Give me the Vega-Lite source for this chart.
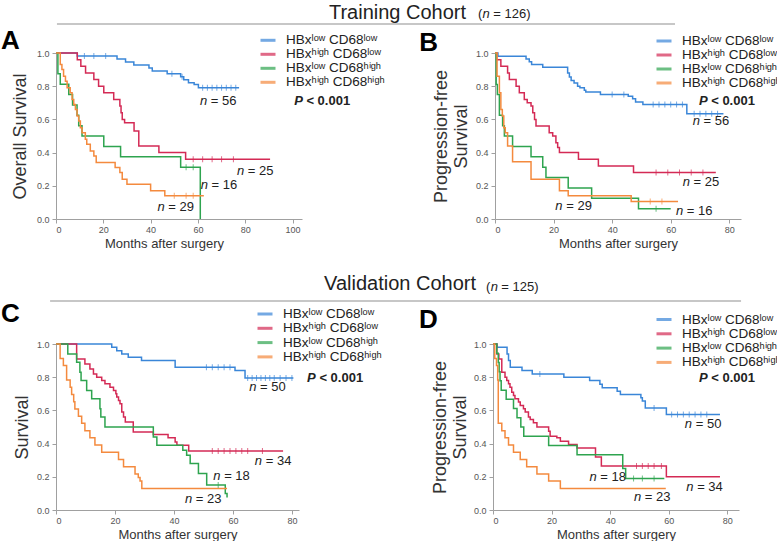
{
  "$schema": "https://vega.github.io/schema/vega-lite/v6.json",
  "padding": {"left": 0, "top": 2, "right": 0, "bottom": 0},
  "background": "white",
  "config": {
    "view": {"stroke": null},
    "font": "Liberation Sans",
    "axis": {"grid": false, "domainColor": "#a0a0a0", "tickColor": "#a0a0a0", "tickSize": 4, "labelFontSize": 9, "labelColor": "#555555", "titleFontWeight": "normal", "titleColor": "#333333", "labelFont": "Liberation Sans", "titleFont": "Liberation Sans", "labelOverlap": false, "labelSeparation": 0},
    "axisX": {"titleFontSize": 13, "labelPadding": 2, "titlePadding": 3},
    "axisY": {"titleFontSize": 18, "labelPadding": 3, "titlePadding": 6, "titleLineHeight": 20},
    "legend": {"orient": "none", "title": null, "padding": 0, "symbolType": "stroke", "symbolSize": 225, "symbolStrokeWidth": 3, "symbolOffset": 0, "labelFontSize": 13.5, "labelFont": "Liberation Sans", "labelColor": "#222222", "labelOffset": 9, "rowPadding": 0, "clipHeight": 14},
    "text": {"font": "Liberation Sans", "fontSize": 13, "color": "#222222"}
  },
  "datasets": {
    "km": [
      {"p":"A","g":"LL","t":0,"s":1},{"p":"A","g":"LL","t":9,"s":0.982},{"p":"A","g":"LL","t":25.8,"s":0.964},{"p":"A","g":"LL","t":29.4,"s":0.946},{"p":"A","g":"LL","t":32.9,"s":0.928},{"p":"A","g":"LL","t":39.3,"s":0.91},{"p":"A","g":"LL","t":40.7,"s":0.892},{"p":"A","g":"LL","t":47,"s":0.875},{"p":"A","g":"LL","t":52.7,"s":0.857},{"p":"A","g":"LL","t":54,"s":0.839},{"p":"A","g":"LL","t":56,"s":0.821},{"p":"A","g":"LL","t":58.4,"s":0.81},{"p":"A","g":"LL","t":60.2,"s":0.79},{"p":"A","g":"LL","t":77.4,"s":0.79},
      {"p":"A","g":"HL","t":0,"s":1},{"p":"A","g":"HL","t":9,"s":0.96},{"p":"A","g":"HL","t":10.5,"s":0.92},{"p":"A","g":"HL","t":12.5,"s":0.88},{"p":"A","g":"HL","t":16,"s":0.84},{"p":"A","g":"HL","t":18,"s":0.8},{"p":"A","g":"HL","t":20.2,"s":0.76},{"p":"A","g":"HL","t":24.4,"s":0.72},{"p":"A","g":"HL","t":27,"s":0.68},{"p":"A","g":"HL","t":27.5,"s":0.64},{"p":"A","g":"HL","t":28,"s":0.6},{"p":"A","g":"HL","t":29,"s":0.58},{"p":"A","g":"HL","t":33,"s":0.53},{"p":"A","g":"HL","t":35,"s":0.44},{"p":"A","g":"HL","t":43.5,"s":0.4},{"p":"A","g":"HL","t":54.8,"s":0.36},{"p":"A","g":"HL","t":90.5,"s":0.36},
      {"p":"A","g":"LH","t":0,"s":1},{"p":"A","g":"LH","t":0.8,"s":0.875},{"p":"A","g":"LH","t":1.8,"s":0.8125},{"p":"A","g":"LH","t":5.4,"s":0.75},{"p":"A","g":"LH","t":7,"s":0.6875},{"p":"A","g":"LH","t":8.9,"s":0.625},{"p":"A","g":"LH","t":9.6,"s":0.5625},{"p":"A","g":"LH","t":11,"s":0.5},{"p":"A","g":"LH","t":20.2,"s":0.4375},{"p":"A","g":"LH","t":27.3,"s":0.375},{"p":"A","g":"LH","t":52.7,"s":0.3125},{"p":"A","g":"LH","t":61,"s":0},
      {"p":"A","g":"HH","t":0,"s":1},{"p":"A","g":"HH","t":1.8,"s":0.93},{"p":"A","g":"HH","t":2.5,"s":0.9},{"p":"A","g":"HH","t":3.2,"s":0.86},{"p":"A","g":"HH","t":4,"s":0.83},{"p":"A","g":"HH","t":4.7,"s":0.79},{"p":"A","g":"HH","t":6,"s":0.76},{"p":"A","g":"HH","t":6.8,"s":0.72},{"p":"A","g":"HH","t":7.5,"s":0.69},{"p":"A","g":"HH","t":8.2,"s":0.66},{"p":"A","g":"HH","t":8.9,"s":0.62},{"p":"A","g":"HH","t":9.6,"s":0.59},{"p":"A","g":"HH","t":10.3,"s":0.55},{"p":"A","g":"HH","t":11,"s":0.52},{"p":"A","g":"HH","t":12.4,"s":0.48},{"p":"A","g":"HH","t":13,"s":0.45},{"p":"A","g":"HH","t":14.5,"s":0.41},{"p":"A","g":"HH","t":16,"s":0.38},{"p":"A","g":"HH","t":17,"s":0.34},{"p":"A","g":"HH","t":25,"s":0.31},{"p":"A","g":"HH","t":27,"s":0.28},{"p":"A","g":"HH","t":28,"s":0.24},{"p":"A","g":"HH","t":30,"s":0.21},{"p":"A","g":"HH","t":40,"s":0.17},{"p":"A","g":"HH","t":46,"s":0.14},{"p":"A","g":"HH","t":62.5,"s":0.14},

      {"p":"B","g":"LL","t":0,"s":1},{"p":"B","g":"LL","t":1,"s":0.98},{"p":"B","g":"LL","t":10.6,"s":0.964},{"p":"B","g":"LL","t":11.7,"s":0.948},{"p":"B","g":"LL","t":12.5,"s":0.93},{"p":"B","g":"LL","t":16.3,"s":0.914},{"p":"B","g":"LL","t":24.8,"s":0.88},{"p":"B","g":"LL","t":25.4,"s":0.855},{"p":"B","g":"LL","t":26,"s":0.835},{"p":"B","g":"LL","t":27,"s":0.82},{"p":"B","g":"LL","t":28.2,"s":0.8},{"p":"B","g":"LL","t":29,"s":0.79},{"p":"B","g":"LL","t":30.5,"s":0.775},{"p":"B","g":"LL","t":31,"s":0.765},{"p":"B","g":"LL","t":36,"s":0.75},{"p":"B","g":"LL","t":45.5,"s":0.74},{"p":"B","g":"LL","t":47,"s":0.725},{"p":"B","g":"LL","t":48,"s":0.705},{"p":"B","g":"LL","t":50.5,"s":0.69},{"p":"B","g":"LL","t":65.5,"s":0.634},{"p":"B","g":"LL","t":78,"s":0.634},
      {"p":"B","g":"HL","t":0,"s":1},{"p":"B","g":"HL","t":0.6,"s":0.96},{"p":"B","g":"HL","t":2,"s":0.92},{"p":"B","g":"HL","t":4.3,"s":0.88},{"p":"B","g":"HL","t":4.9,"s":0.84},{"p":"B","g":"HL","t":7.2,"s":0.8},{"p":"B","g":"HL","t":8.3,"s":0.76},{"p":"B","g":"HL","t":10,"s":0.72},{"p":"B","g":"HL","t":11,"s":0.7},{"p":"B","g":"HL","t":12.3,"s":0.68},{"p":"B","g":"HL","t":12.9,"s":0.64},{"p":"B","g":"HL","t":13.5,"s":0.6},{"p":"B","g":"HL","t":14,"s":0.56},{"p":"B","g":"HL","t":18.5,"s":0.52},{"p":"B","g":"HL","t":19.7,"s":0.5},{"p":"B","g":"HL","t":20.8,"s":0.46},{"p":"B","g":"HL","t":21.4,"s":0.43},{"p":"B","g":"HL","t":22,"s":0.4},{"p":"B","g":"HL","t":28.5,"s":0.36},{"p":"B","g":"HL","t":35.3,"s":0.32},{"p":"B","g":"HL","t":47.3,"s":0.28},{"p":"B","g":"HL","t":75.4,"s":0.28},
      {"p":"B","g":"LH","t":0,"s":1},{"p":"B","g":"LH","t":0.4,"s":0.81},{"p":"B","g":"LH","t":0.8,"s":0.75},{"p":"B","g":"LH","t":1.5,"s":0.625},{"p":"B","g":"LH","t":2.6,"s":0.5625},{"p":"B","g":"LH","t":3.2,"s":0.5},{"p":"B","g":"LH","t":6,"s":0.4375},{"p":"B","g":"LH","t":12.3,"s":0.375},{"p":"B","g":"LH","t":16.3,"s":0.3125},{"p":"B","g":"LH","t":17.4,"s":0.25},{"p":"B","g":"LH","t":25,"s":0.1875},{"p":"B","g":"LH","t":33,"s":0.125},{"p":"B","g":"LH","t":49,"s":0.0625},{"p":"B","g":"LH","t":60,"s":0.0625},
      {"p":"B","g":"HH","t":0,"s":1},{"p":"B","g":"HH","t":0.7,"s":0.86},{"p":"B","g":"HH","t":1.5,"s":0.76},{"p":"B","g":"HH","t":2,"s":0.66},{"p":"B","g":"HH","t":2.5,"s":0.62},{"p":"B","g":"HH","t":3,"s":0.55},{"p":"B","g":"HH","t":3.5,"s":0.52},{"p":"B","g":"HH","t":4.3,"s":0.44},{"p":"B","g":"HH","t":6,"s":0.345},{"p":"B","g":"HH","t":12.3,"s":0.24},{"p":"B","g":"HH","t":22,"s":0.17},{"p":"B","g":"HH","t":25,"s":0.14},{"p":"B","g":"HH","t":46.5,"s":0.105},{"p":"B","g":"HH","t":62.5,"s":0.105},

      {"p":"C","g":"LL","t":0,"s":1},{"p":"C","g":"LL","t":18.9,"s":0.98},{"p":"C","g":"LL","t":20.6,"s":0.96},{"p":"C","g":"LL","t":22.3,"s":0.94},{"p":"C","g":"LL","t":24.5,"s":0.92},{"p":"C","g":"LL","t":29,"s":0.9},{"p":"C","g":"LL","t":40.4,"s":0.86},{"p":"C","g":"LL","t":60.7,"s":0.84},{"p":"C","g":"LL","t":64.1,"s":0.795},{"p":"C","g":"LL","t":80.5,"s":0.795},
      {"p":"C","g":"HL","t":0,"s":1},{"p":"C","g":"HL","t":7,"s":0.91},{"p":"C","g":"HL","t":9.8,"s":0.88},{"p":"C","g":"HL","t":11.5,"s":0.85},{"p":"C","g":"HL","t":12.7,"s":0.82},{"p":"C","g":"HL","t":13.8,"s":0.8},{"p":"C","g":"HL","t":15.5,"s":0.78},{"p":"C","g":"HL","t":16.6,"s":0.76},{"p":"C","g":"HL","t":18.3,"s":0.74},{"p":"C","g":"HL","t":19.5,"s":0.72},{"p":"C","g":"HL","t":20.3,"s":0.7},{"p":"C","g":"HL","t":20.6,"s":0.68},{"p":"C","g":"HL","t":21.2,"s":0.66},{"p":"C","g":"HL","t":21.7,"s":0.64},{"p":"C","g":"HL","t":22.3,"s":0.59},{"p":"C","g":"HL","t":22.9,"s":0.56},{"p":"C","g":"HL","t":23.5,"s":0.53},{"p":"C","g":"HL","t":26.2,"s":0.47},{"p":"C","g":"HL","t":33,"s":0.455},{"p":"C","g":"HL","t":38,"s":0.435},{"p":"C","g":"HL","t":40.4,"s":0.41},{"p":"C","g":"HL","t":41,"s":0.39},{"p":"C","g":"HL","t":45,"s":0.355},{"p":"C","g":"HL","t":77,"s":0.355},
      {"p":"C","g":"LH","t":0,"s":1},{"p":"C","g":"LH","t":4,"s":0.94},{"p":"C","g":"LH","t":7,"s":0.89},{"p":"C","g":"LH","t":8.1,"s":0.83},{"p":"C","g":"LH","t":8.5,"s":0.78},{"p":"C","g":"LH","t":10.4,"s":0.72},{"p":"C","g":"LH","t":12.1,"s":0.67},{"p":"C","g":"LH","t":14.9,"s":0.61},{"p":"C","g":"LH","t":15.2,"s":0.56},{"p":"C","g":"LH","t":16.6,"s":0.5},{"p":"C","g":"LH","t":33,"s":0.44},{"p":"C","g":"LH","t":34.2,"s":0.39},{"p":"C","g":"LH","t":43,"s":0.36},{"p":"C","g":"LH","t":44.3,"s":0.33},{"p":"C","g":"LH","t":45.5,"s":0.28},{"p":"C","g":"LH","t":48.3,"s":0.22},{"p":"C","g":"LH","t":51.1,"s":0.15},{"p":"C","g":"LH","t":57.4,"s":0.1},{"p":"C","g":"LH","t":58,"s":0.075},
      {"p":"C","g":"HH","t":0,"s":1},{"p":"C","g":"HH","t":1.4,"s":0.913},{"p":"C","g":"HH","t":2.5,"s":0.87},{"p":"C","g":"HH","t":3.6,"s":0.783},{"p":"C","g":"HH","t":4.8,"s":0.739},{"p":"C","g":"HH","t":5.3,"s":0.696},{"p":"C","g":"HH","t":6,"s":0.652},{"p":"C","g":"HH","t":6.4,"s":0.609},{"p":"C","g":"HH","t":7.6,"s":0.565},{"p":"C","g":"HH","t":8.7,"s":0.522},{"p":"C","g":"HH","t":9.8,"s":0.478},{"p":"C","g":"HH","t":11.5,"s":0.435},{"p":"C","g":"HH","t":13.2,"s":0.391},{"p":"C","g":"HH","t":15.5,"s":0.348},{"p":"C","g":"HH","t":21.2,"s":0.304},{"p":"C","g":"HH","t":22.9,"s":0.261},{"p":"C","g":"HH","t":26.8,"s":0.217},{"p":"C","g":"HH","t":27.9,"s":0.196},{"p":"C","g":"HH","t":28.5,"s":0.174},{"p":"C","g":"HH","t":29.1,"s":0.13},{"p":"C","g":"HH","t":58,"s":0.13},

      {"p":"D","g":"LL","t":0,"s":1},{"p":"D","g":"LL","t":1.4,"s":0.98},{"p":"D","g":"LL","t":4.8,"s":0.94},{"p":"D","g":"LL","t":5.3,"s":0.9},{"p":"D","g":"LL","t":5.9,"s":0.86},{"p":"D","g":"LL","t":9.9,"s":0.84},{"p":"D","g":"LL","t":13.4,"s":0.82},{"p":"D","g":"LL","t":24.2,"s":0.8},{"p":"D","g":"LL","t":33,"s":0.78},{"p":"D","g":"LL","t":36.5,"s":0.757},{"p":"D","g":"LL","t":37.3,"s":0.736},{"p":"D","g":"LL","t":42.4,"s":0.716},{"p":"D","g":"LL","t":43.5,"s":0.696},{"p":"D","g":"LL","t":50.5,"s":0.676},{"p":"D","g":"LL","t":51,"s":0.656},{"p":"D","g":"LL","t":52,"s":0.615},{"p":"D","g":"LL","t":59.2,"s":0.575},{"p":"D","g":"LL","t":77.5,"s":0.575},
      {"p":"D","g":"HL","t":0,"s":1},{"p":"D","g":"HL","t":1.3,"s":0.94},{"p":"D","g":"HL","t":2,"s":0.91},{"p":"D","g":"HL","t":3,"s":0.83},{"p":"D","g":"HL","t":4.1,"s":0.8},{"p":"D","g":"HL","t":4.7,"s":0.78},{"p":"D","g":"HL","t":5.3,"s":0.76},{"p":"D","g":"HL","t":5.8,"s":0.74},{"p":"D","g":"HL","t":6.4,"s":0.71},{"p":"D","g":"HL","t":7,"s":0.69},{"p":"D","g":"HL","t":7.5,"s":0.67},{"p":"D","g":"HL","t":8.7,"s":0.65},{"p":"D","g":"HL","t":9.3,"s":0.63},{"p":"D","g":"HL","t":10.4,"s":0.61},{"p":"D","g":"HL","t":11,"s":0.59},{"p":"D","g":"HL","t":12.1,"s":0.56},{"p":"D","g":"HL","t":12.7,"s":0.545},{"p":"D","g":"HL","t":13.8,"s":0.525},{"p":"D","g":"HL","t":15,"s":0.5},{"p":"D","g":"HL","t":19,"s":0.475},{"p":"D","g":"HL","t":19.5,"s":0.445},{"p":"D","g":"HL","t":21.8,"s":0.435},{"p":"D","g":"HL","t":23,"s":0.414},{"p":"D","g":"HL","t":25.8,"s":0.394},{"p":"D","g":"HL","t":28.7,"s":0.374},{"p":"D","g":"HL","t":35,"s":0.32},{"p":"D","g":"HL","t":37,"s":0.265},{"p":"D","g":"HL","t":59.2,"s":0.2},{"p":"D","g":"HL","t":77.5,"s":0.2},
      {"p":"D","g":"LH","t":0,"s":1},{"p":"D","g":"LH","t":1.3,"s":0.944},{"p":"D","g":"LH","t":1.8,"s":0.889},{"p":"D","g":"LH","t":2.1,"s":0.833},{"p":"D","g":"LH","t":2.4,"s":0.778},{"p":"D","g":"LH","t":2.8,"s":0.722},{"p":"D","g":"LH","t":4.5,"s":0.667},{"p":"D","g":"LH","t":7,"s":0.611},{"p":"D","g":"LH","t":8.2,"s":0.556},{"p":"D","g":"LH","t":9.5,"s":0.5},{"p":"D","g":"LH","t":10.5,"s":0.444},{"p":"D","g":"LH","t":19,"s":0.389},{"p":"D","g":"LH","t":28.7,"s":0.333},{"p":"D","g":"LH","t":44.3,"s":0.25},{"p":"D","g":"LH","t":45.3,"s":0.19},{"p":"D","g":"LH","t":58.5,"s":0.19},
      {"p":"D","g":"HH","t":0,"s":1},{"p":"D","g":"HH","t":0.6,"s":0.913},{"p":"D","g":"HH","t":1.2,"s":0.87},{"p":"D","g":"HH","t":1.6,"s":0.783},{"p":"D","g":"HH","t":1.8,"s":0.522},{"p":"D","g":"HH","t":3,"s":0.478},{"p":"D","g":"HH","t":4.1,"s":0.435},{"p":"D","g":"HH","t":5.3,"s":0.391},{"p":"D","g":"HH","t":7,"s":0.348},{"p":"D","g":"HH","t":9.3,"s":0.304},{"p":"D","g":"HH","t":11.5,"s":0.261},{"p":"D","g":"HH","t":15,"s":0.217},{"p":"D","g":"HH","t":19,"s":0.174},{"p":"D","g":"HH","t":23,"s":0.13},{"p":"D","g":"HH","t":59,"s":0.13}
    ],
    "cz": [
      {"p":"A","g":"LL","t":12,"s":0.982},{"p":"A","g":"LL","t":16,"s":0.982},{"p":"A","g":"LL","t":21,"s":0.982},{"p":"A","g":"LL","t":49,"s":0.875},{"p":"A","g":"LL","t":53.3,"s":0.857},{"p":"A","g":"LL","t":62,"s":0.79},{"p":"A","g":"LL","t":64,"s":0.79},{"p":"A","g":"LL","t":66,"s":0.79},{"p":"A","g":"LL","t":68,"s":0.79},{"p":"A","g":"LL","t":70,"s":0.79},{"p":"A","g":"LL","t":72,"s":0.79},{"p":"A","g":"LL","t":74,"s":0.79},{"p":"A","g":"LL","t":76,"s":0.79},
      {"p":"A","g":"HL","t":58,"s":0.36},{"p":"A","g":"HL","t":62,"s":0.36},{"p":"A","g":"HL","t":66,"s":0.36},{"p":"A","g":"HL","t":70,"s":0.36},{"p":"A","g":"HL","t":75,"s":0.36},
      {"p":"A","g":"LH","t":55,"s":0.3125},{"p":"A","g":"LH","t":58,"s":0.3125},
      {"p":"A","g":"HH","t":50,"s":0.14},{"p":"A","g":"HH","t":55,"s":0.14},{"p":"A","g":"HH","t":58,"s":0.14},
      {"p":"B","g":"LL","t":40,"s":0.75},{"p":"B","g":"LL","t":44,"s":0.75},{"p":"B","g":"LL","t":54,"s":0.69},{"p":"B","g":"LL","t":56,"s":0.69},{"p":"B","g":"LL","t":58,"s":0.69},{"p":"B","g":"LL","t":60,"s":0.69},{"p":"B","g":"LL","t":62,"s":0.69},{"p":"B","g":"LL","t":64,"s":0.69},{"p":"B","g":"LL","t":68,"s":0.634},{"p":"B","g":"LL","t":70,"s":0.634},{"p":"B","g":"LL","t":72,"s":0.634},{"p":"B","g":"LL","t":74,"s":0.634},{"p":"B","g":"LL","t":76,"s":0.634},
      {"p":"B","g":"HL","t":55,"s":0.28},{"p":"B","g":"HL","t":59,"s":0.28},{"p":"B","g":"HL","t":63,"s":0.28},{"p":"B","g":"HL","t":67,"s":0.28},{"p":"B","g":"HL","t":71,"s":0.28},
      {"p":"B","g":"HH","t":53,"s":0.105},{"p":"B","g":"HH","t":57,"s":0.105},
      {"p":"B","g":"LH","t":55,"s":0.0625},
      {"p":"C","g":"LL","t":51,"s":0.86},{"p":"C","g":"LL","t":53,"s":0.86},{"p":"C","g":"LL","t":55,"s":0.86},{"p":"C","g":"LL","t":57,"s":0.86},{"p":"C","g":"LL","t":59,"s":0.86},{"p":"C","g":"LL","t":65,"s":0.795},{"p":"C","g":"LL","t":66.5,"s":0.795},{"p":"C","g":"LL","t":68,"s":0.795},{"p":"C","g":"LL","t":69.5,"s":0.795},{"p":"C","g":"LL","t":71,"s":0.795},{"p":"C","g":"LL","t":72.5,"s":0.795},{"p":"C","g":"LL","t":74,"s":0.795},{"p":"C","g":"LL","t":76,"s":0.795},{"p":"C","g":"LL","t":78,"s":0.795},{"p":"C","g":"LL","t":80,"s":0.795},
      {"p":"C","g":"HL","t":53,"s":0.355},{"p":"C","g":"HL","t":55,"s":0.355},{"p":"C","g":"HL","t":57,"s":0.355},{"p":"C","g":"HL","t":59,"s":0.355},{"p":"C","g":"HL","t":61,"s":0.355},{"p":"C","g":"HL","t":63,"s":0.355},{"p":"C","g":"HL","t":65,"s":0.355},{"p":"C","g":"HL","t":70,"s":0.355},
      {"p":"C","g":"LH","t":55,"s":0.15},
      {"p":"D","g":"LL","t":16,"s":0.82},{"p":"D","g":"LL","t":55,"s":0.615},{"p":"D","g":"LL","t":61,"s":0.575},{"p":"D","g":"LL","t":63,"s":0.575},{"p":"D","g":"LL","t":65,"s":0.575},{"p":"D","g":"LL","t":67,"s":0.575},{"p":"D","g":"LL","t":69,"s":0.575},{"p":"D","g":"LL","t":71,"s":0.575},{"p":"D","g":"LL","t":73,"s":0.575},
      {"p":"D","g":"HL","t":49,"s":0.265},{"p":"D","g":"HL","t":51,"s":0.265},{"p":"D","g":"HL","t":53,"s":0.265},{"p":"D","g":"HL","t":55,"s":0.265},{"p":"D","g":"HL","t":57.5,"s":0.265},
      {"p":"D","g":"LH","t":48,"s":0.19},{"p":"D","g":"LH","t":51,"s":0.19},{"p":"D","g":"LH","t":55,"s":0.19}
    ],
    "nl": [
      {"p":"A","t":64.7,"s":0.713,"txt":"= 56"},{"p":"A","t":80.3,"s":0.29,"txt":"= 25"},{"p":"A","t":65,"s":0.207,"txt":"= 16"},{"p":"A","t":46.7,"s":0.07,"txt":"= 29"},
      {"p":"B","t":70.6,"s":0.588,"txt":"= 56"},{"p":"B","t":67.2,"s":0.224,"txt":"= 25"},{"p":"B","t":23.7,"s":0.078,"txt":"= 29"},{"p":"B","t":64.9,"s":0.05,"txt":"= 16"},
      {"p":"C","t":68.6,"s":0.743,"txt":"= 50"},{"p":"C","t":70.5,"s":0.293,"txt":"= 34"},{"p":"C","t":56.4,"s":0.202,"txt":"= 18"},{"p":"C","t":46.8,"s":0.065,"txt":"= 23"},
      {"p":"D","t":68.6,"s":0.519,"txt":"= 50"},{"p":"D","t":36,"s":0.2,"txt":"= 18"},{"p":"D","t":69.1,"s":0.141,"txt":"= 34"},{"p":"D","t":51.2,"s":0.08,"txt":"= 23"}
    ],
    "pv": [
      {"p":"A","t":105.1,"s":0.711},{"p":"B","t":73.2,"s":0.711},{"p":"C","t":88.7,"s":0.795},{"p":"D","t":73.9,"s":0.793}
    ],
    "lt": [
      {"p":"A","t":-23.3,"s":1.024,"txt":"A"},{"p":"B","t":-25.9,"s":1.012,"txt":"B"},{"p":"C","t":-18.65,"s":1.133,"txt":"C"},{"p":"D","t":-25.3,"s":1.096,"txt":"D"}
    ],
    "hd": [
      {"p":"A","t":115.4,"s":1.205,"txt":"Training Cohort"},{"p":"C","t":90.9,"s":1.325,"txt":"Validation Cohort"}
    ],
    "hs": [
      {"p":"A","t":178.4,"s":1.211,"txt":"("},{"p":"A","t":184.9,"s":1.211,"txt":"= 126)"},
      {"p":"C","t":145.8,"s":1.319,"txt":"("},{"p":"C","t":151.0,"s":1.319,"txt":"= 125)"}
    ],
    "hn": [
      {"p":"A","t":180.3,"s":1.211},{"p":"C","t":147.4,"s":1.319}
    ],
    "hr": [
      {"p":"A","t":0.4,"t2":261.7,"s":1.175},{"p":"C","t":-2.0,"t2":232.3,"s":1.259}
    ]
  },
  "spacing": 24,
  "bounds": "full",
  "resolve": {"scale": {"color": "independent"}, "legend": {"color": "independent"}},
  "vconcat": [
    {
      "spacing": 193,
      "bounds": "flush",
      "resolve": {"scale": {"color": "independent"}, "legend": {"color": "independent"}},
      "hconcat": [
        {
          "width": 246, "height": 166,
          "layer": [
            {"data": {"name": "km"}, "transform": [{"filter": "datum.p==='A'"}],
             "mark": {"type": "line", "interpolate": "step-after", "strokeWidth": 1.5},
             "encoding": {
               "x": {"field": "t", "type": "quantitative", "scale": {"domain": [0, 104], "nice": false}, "axis": {"title": "Months after surgery", "values": [0, 20, 40, 60, 80, 100], "titleX": 108, "labelOverlap": false}},
               "y": {"field": "s", "type": "quantitative", "scale": {"domain": [0, 1], "nice": false}, "axis": {"title": "Overall Survival", "tickCount": 5, "format": ".1f", "titlePadding": 7, "labelOverlap": false}},
               "color": {"field": "g", "type": "nominal", "scale": {"domain": ["LL", "HL", "LH", "HH"], "range": ["#3a86d8", "#d42a55", "#2ea44f", "#f48a3e"]}, "legend": {"legendX": 203, "legendY": -19.7, "rowPadding": 0, "clipHeight": 14, "labelExpr": "datum.label==='LL'?'HBxˡᵒʷ CD68ˡᵒʷ':datum.label==='HL'?'HBxʰⁱᵍʰ CD68ˡᵒʷ':datum.label==='LH'?'HBxˡᵒʷ CD68ʰⁱᵍʰ':'HBxʰⁱᵍʰ CD68ʰⁱᵍʰ'"}}
             }},
            {"data": {"name": "cz"}, "transform": [{"filter": "datum.p==='A'"}],
             "mark": {"type": "tick", "orient": "vertical", "size": 6, "thickness": 1},
             "encoding": {"x": {"field": "t", "type": "quantitative"}, "y": {"field": "s", "type": "quantitative"}, "color": {"field": "g", "type": "nominal"}}},
            {"data": {"name": "nl"}, "transform": [{"filter": "datum.p==='A'"}],
             "mark": {"type": "text", "text": "n", "fontStyle": "italic", "align": "right", "baseline": "middle", "dx": -1.8},
             "encoding": {"x": {"field": "t", "type": "quantitative"}, "y": {"field": "s", "type": "quantitative"}}},
            {"data": {"name": "nl"}, "transform": [{"filter": "datum.p==='A'"}],
             "mark": {"type": "text", "align": "left", "baseline": "middle", "dx": 1.8},
             "encoding": {"x": {"field": "t", "type": "quantitative"}, "y": {"field": "s", "type": "quantitative"}, "text": {"field": "txt"}}},
            {"data": {"name": "pv"}, "transform": [{"filter": "datum.p==='A'"}],
             "mark": {"type": "text", "text": "P", "fontStyle": "italic", "fontWeight": "bold", "align": "right", "baseline": "middle", "dx": -1.8},
             "encoding": {"x": {"field": "t", "type": "quantitative"}, "y": {"field": "s", "type": "quantitative"}}},
            {"data": {"name": "pv"}, "transform": [{"filter": "datum.p==='A'"}],
             "mark": {"type": "text", "text": "< 0.001", "fontWeight": "bold", "align": "left", "baseline": "middle", "dx": 1.8},
             "encoding": {"x": {"field": "t", "type": "quantitative"}, "y": {"field": "s", "type": "quantitative"}}},
            {"data": {"name": "lt"}, "transform": [{"filter": "datum.p==='A'"}],
             "mark": {"type": "text", "fontSize": 26, "fontWeight": "bold", "color": "#000000", "align": "left", "baseline": "alphabetic"},
             "encoding": {"x": {"field": "t", "type": "quantitative"}, "y": {"field": "s", "type": "quantitative"}, "text": {"field": "txt"}}},
            {"data": {"name": "hd"}, "transform": [{"filter": "datum.p==='A'"}],
             "mark": {"type": "text", "fontSize": 20, "color": "#222222", "align": "left", "baseline": "alphabetic"},
             "encoding": {"x": {"field": "t", "type": "quantitative"}, "y": {"field": "s", "type": "quantitative"}, "text": {"field": "txt"}}},
            {"data": {"name": "hs"}, "transform": [{"filter": "datum.p==='A'"}],
             "mark": {"type": "text", "fontSize": 13, "color": "#222222", "align": "left", "baseline": "alphabetic"},
             "encoding": {"x": {"field": "t", "type": "quantitative"}, "y": {"field": "s", "type": "quantitative"}, "text": {"field": "txt"}}},
            {"data": {"name": "hn"}, "transform": [{"filter": "datum.p==='A'"}],
             "mark": {"type": "text", "text": "n", "fontSize": 13, "fontStyle": "italic", "color": "#222222", "align": "left", "baseline": "alphabetic"},
             "encoding": {"x": {"field": "t", "type": "quantitative"}, "y": {"field": "s", "type": "quantitative"}}},
            {"data": {"name": "hr"}, "transform": [{"filter": "datum.p==='A'"}],
             "mark": {"type": "rule", "color": "#b4b4b4", "strokeWidth": 1.5},
             "encoding": {"x": {"field": "t", "type": "quantitative"}, "x2": {"field": "t2"}, "y": {"field": "s", "type": "quantitative"}}}
          ]
        },
        {
          "width": 246, "height": 166,
          "layer": [
            {"data": {"name": "km"}, "transform": [{"filter": "datum.p==='B'"}],
             "mark": {"type": "line", "interpolate": "step-after", "strokeWidth": 1.5},
             "encoding": {
               "x": {"field": "t", "type": "quantitative", "scale": {"domain": [0, 84], "nice": false}, "axis": {"title": "Months after surgery", "values": [0, 20, 40, 60, 80], "labelOverlap": false}},
               "y": {"field": "s", "type": "quantitative", "scale": {"domain": [0, 1], "nice": false}, "axis": {"title": ["Progression-free", "Survival"], "tickCount": 5, "format": ".1f", "titlePadding": 5, "labelOverlap": false}},
               "color": {"field": "g", "type": "nominal", "scale": {"domain": ["LL", "HL", "LH", "HH"], "range": ["#3a86d8", "#d42a55", "#2ea44f", "#f48a3e"]}, "legend": {"legendX": 160, "legendY": -19, "rowPadding": 0, "clipHeight": 14, "labelExpr": "datum.label==='LL'?'HBxˡᵒʷ CD68ˡᵒʷ':datum.label==='HL'?'HBxʰⁱᵍʰ CD68ˡᵒʷ':datum.label==='LH'?'HBxˡᵒʷ CD68ʰⁱᵍʰ':'HBxʰⁱᵍʰ CD68ʰⁱᵍʰ'"}}
             }},
            {"data": {"name": "cz"}, "transform": [{"filter": "datum.p==='B'"}],
             "mark": {"type": "tick", "orient": "vertical", "size": 6, "thickness": 1},
             "encoding": {"x": {"field": "t", "type": "quantitative"}, "y": {"field": "s", "type": "quantitative"}, "color": {"field": "g", "type": "nominal"}}},
            {"data": {"name": "nl"}, "transform": [{"filter": "datum.p==='B'"}],
             "mark": {"type": "text", "text": "n", "fontStyle": "italic", "align": "right", "baseline": "middle", "dx": -1.8},
             "encoding": {"x": {"field": "t", "type": "quantitative"}, "y": {"field": "s", "type": "quantitative"}}},
            {"data": {"name": "nl"}, "transform": [{"filter": "datum.p==='B'"}],
             "mark": {"type": "text", "align": "left", "baseline": "middle", "dx": 1.8},
             "encoding": {"x": {"field": "t", "type": "quantitative"}, "y": {"field": "s", "type": "quantitative"}, "text": {"field": "txt"}}},
            {"data": {"name": "pv"}, "transform": [{"filter": "datum.p==='B'"}],
             "mark": {"type": "text", "text": "P", "fontStyle": "italic", "fontWeight": "bold", "align": "right", "baseline": "middle", "dx": -1.8},
             "encoding": {"x": {"field": "t", "type": "quantitative"}, "y": {"field": "s", "type": "quantitative"}}},
            {"data": {"name": "pv"}, "transform": [{"filter": "datum.p==='B'"}],
             "mark": {"type": "text", "text": "< 0.001", "fontWeight": "bold", "align": "left", "baseline": "middle", "dx": 1.8},
             "encoding": {"x": {"field": "t", "type": "quantitative"}, "y": {"field": "s", "type": "quantitative"}}},
            {"data": {"name": "lt"}, "transform": [{"filter": "datum.p==='B'"}],
             "mark": {"type": "text", "fontSize": 26, "fontWeight": "bold", "color": "#000000", "align": "left", "baseline": "alphabetic"},
             "encoding": {"x": {"field": "t", "type": "quantitative"}, "y": {"field": "s", "type": "quantitative"}, "text": {"field": "txt"}}}
          ]
        }
      ]
    },
    {
      "spacing": 194,
      "bounds": "flush",
      "resolve": {"scale": {"color": "independent"}, "legend": {"color": "independent"}},
      "hconcat": [
        {
          "width": 243, "height": 166,
          "layer": [
            {"data": {"name": "km"}, "transform": [{"filter": "datum.p==='C'"}],
             "mark": {"type": "line", "interpolate": "step-after", "strokeWidth": 1.5},
             "encoding": {
               "x": {"field": "t", "type": "quantitative", "scale": {"domain": [0, 82.4], "nice": false}, "axis": {"title": "Months after surgery", "values": [0, 20, 40, 60, 80], "labelOverlap": false}},
               "y": {"field": "s", "type": "quantitative", "scale": {"domain": [0, 1], "nice": false}, "axis": {"title": "Survival", "tickCount": 5, "format": ".1f", "titlePadding": 5, "labelOverlap": false}},
               "color": {"field": "g", "type": "nominal", "scale": {"domain": ["LL", "HL", "LH", "HH"], "range": ["#3a86d8", "#d42a55", "#2ea44f", "#f48a3e"]}, "legend": {"legendX": 200, "legendY": -37, "rowPadding": 0.3, "clipHeight": 14, "labelExpr": "datum.label==='LL'?'HBxˡᵒʷ CD68ˡᵒʷ':datum.label==='HL'?'HBxʰⁱᵍʰ CD68ˡᵒʷ':datum.label==='LH'?'HBxˡᵒʷ CD68ʰⁱᵍʰ':'HBxʰⁱᵍʰ CD68ʰⁱᵍʰ'"}}
             }},
            {"data": {"name": "cz"}, "transform": [{"filter": "datum.p==='C'"}],
             "mark": {"type": "tick", "orient": "vertical", "size": 6, "thickness": 1},
             "encoding": {"x": {"field": "t", "type": "quantitative"}, "y": {"field": "s", "type": "quantitative"}, "color": {"field": "g", "type": "nominal"}}},
            {"data": {"name": "nl"}, "transform": [{"filter": "datum.p==='C'"}],
             "mark": {"type": "text", "text": "n", "fontStyle": "italic", "align": "right", "baseline": "middle", "dx": -1.8},
             "encoding": {"x": {"field": "t", "type": "quantitative"}, "y": {"field": "s", "type": "quantitative"}}},
            {"data": {"name": "nl"}, "transform": [{"filter": "datum.p==='C'"}],
             "mark": {"type": "text", "align": "left", "baseline": "middle", "dx": 1.8},
             "encoding": {"x": {"field": "t", "type": "quantitative"}, "y": {"field": "s", "type": "quantitative"}, "text": {"field": "txt"}}},
            {"data": {"name": "pv"}, "transform": [{"filter": "datum.p==='C'"}],
             "mark": {"type": "text", "text": "P", "fontStyle": "italic", "fontWeight": "bold", "align": "right", "baseline": "middle", "dx": -1.8},
             "encoding": {"x": {"field": "t", "type": "quantitative"}, "y": {"field": "s", "type": "quantitative"}}},
            {"data": {"name": "pv"}, "transform": [{"filter": "datum.p==='C'"}],
             "mark": {"type": "text", "text": "< 0.001", "fontWeight": "bold", "align": "left", "baseline": "middle", "dx": 1.8},
             "encoding": {"x": {"field": "t", "type": "quantitative"}, "y": {"field": "s", "type": "quantitative"}}},
            {"data": {"name": "lt"}, "transform": [{"filter": "datum.p==='C'"}],
             "mark": {"type": "text", "fontSize": 26, "fontWeight": "bold", "color": "#000000", "align": "left", "baseline": "alphabetic"},
             "encoding": {"x": {"field": "t", "type": "quantitative"}, "y": {"field": "s", "type": "quantitative"}, "text": {"field": "txt"}}},
            {"data": {"name": "hd"}, "transform": [{"filter": "datum.p==='C'"}],
             "mark": {"type": "text", "fontSize": 20, "color": "#222222", "align": "left", "baseline": "alphabetic"},
             "encoding": {"x": {"field": "t", "type": "quantitative"}, "y": {"field": "s", "type": "quantitative"}, "text": {"field": "txt"}}},
            {"data": {"name": "hs"}, "transform": [{"filter": "datum.p==='C'"}],
             "mark": {"type": "text", "fontSize": 13, "color": "#222222", "align": "left", "baseline": "alphabetic"},
             "encoding": {"x": {"field": "t", "type": "quantitative"}, "y": {"field": "s", "type": "quantitative"}, "text": {"field": "txt"}}},
            {"data": {"name": "hn"}, "transform": [{"filter": "datum.p==='C'"}],
             "mark": {"type": "text", "text": "n", "fontSize": 13, "fontStyle": "italic", "color": "#222222", "align": "left", "baseline": "alphabetic"},
             "encoding": {"x": {"field": "t", "type": "quantitative"}, "y": {"field": "s", "type": "quantitative"}}},
            {"data": {"name": "hr"}, "transform": [{"filter": "datum.p==='C'"}],
             "mark": {"type": "rule", "color": "#b4b4b4", "strokeWidth": 1.5},
             "encoding": {"x": {"field": "t", "type": "quantitative"}, "x2": {"field": "t2"}, "y": {"field": "s", "type": "quantitative"}}}
          ]
        },
        {
          "width": 246, "height": 166,
          "layer": [
            {"data": {"name": "km"}, "transform": [{"filter": "datum.p==='D'"}],
             "mark": {"type": "line", "interpolate": "step-after", "strokeWidth": 1.5},
             "encoding": {
               "x": {"field": "t", "type": "quantitative", "scale": {"domain": [0, 84], "nice": false}, "axis": {"title": "Months after surgery", "values": [0, 20, 40, 60, 80], "labelOverlap": false}},
               "y": {"field": "s", "type": "quantitative", "scale": {"domain": [0, 1], "nice": false}, "axis": {"title": ["Progression-free", "Survival"], "tickCount": 5, "format": ".1f", "titlePadding": 4, "labelOverlap": false}},
               "color": {"field": "g", "type": "nominal", "scale": {"domain": ["LL", "HL", "LH", "HH"], "range": ["#3a86d8", "#d42a55", "#2ea44f", "#f48a3e"]}, "legend": {"legendX": 162, "legendY": -31.5, "rowPadding": 0.3, "clipHeight": 14, "labelExpr": "datum.label==='LL'?'HBxˡᵒʷ CD68ˡᵒʷ':datum.label==='HL'?'HBxʰⁱᵍʰ CD68ˡᵒʷ':datum.label==='LH'?'HBxˡᵒʷ CD68ʰⁱᵍʰ':'HBxʰⁱᵍʰ CD68ʰⁱᵍʰ'"}}
             }},
            {"data": {"name": "cz"}, "transform": [{"filter": "datum.p==='D'"}],
             "mark": {"type": "tick", "orient": "vertical", "size": 6, "thickness": 1},
             "encoding": {"x": {"field": "t", "type": "quantitative"}, "y": {"field": "s", "type": "quantitative"}, "color": {"field": "g", "type": "nominal"}}},
            {"data": {"name": "nl"}, "transform": [{"filter": "datum.p==='D'"}],
             "mark": {"type": "text", "text": "n", "fontStyle": "italic", "align": "right", "baseline": "middle", "dx": -1.8},
             "encoding": {"x": {"field": "t", "type": "quantitative"}, "y": {"field": "s", "type": "quantitative"}}},
            {"data": {"name": "nl"}, "transform": [{"filter": "datum.p==='D'"}],
             "mark": {"type": "text", "align": "left", "baseline": "middle", "dx": 1.8},
             "encoding": {"x": {"field": "t", "type": "quantitative"}, "y": {"field": "s", "type": "quantitative"}, "text": {"field": "txt"}}},
            {"data": {"name": "pv"}, "transform": [{"filter": "datum.p==='D'"}],
             "mark": {"type": "text", "text": "P", "fontStyle": "italic", "fontWeight": "bold", "align": "right", "baseline": "middle", "dx": -1.8},
             "encoding": {"x": {"field": "t", "type": "quantitative"}, "y": {"field": "s", "type": "quantitative"}}},
            {"data": {"name": "pv"}, "transform": [{"filter": "datum.p==='D'"}],
             "mark": {"type": "text", "text": "< 0.001", "fontWeight": "bold", "align": "left", "baseline": "middle", "dx": 1.8},
             "encoding": {"x": {"field": "t", "type": "quantitative"}, "y": {"field": "s", "type": "quantitative"}}},
            {"data": {"name": "lt"}, "transform": [{"filter": "datum.p==='D'"}],
             "mark": {"type": "text", "fontSize": 26, "fontWeight": "bold", "color": "#000000", "align": "left", "baseline": "alphabetic"},
             "encoding": {"x": {"field": "t", "type": "quantitative"}, "y": {"field": "s", "type": "quantitative"}, "text": {"field": "txt"}}}
          ]
        }
      ]
    }
  ]
}
